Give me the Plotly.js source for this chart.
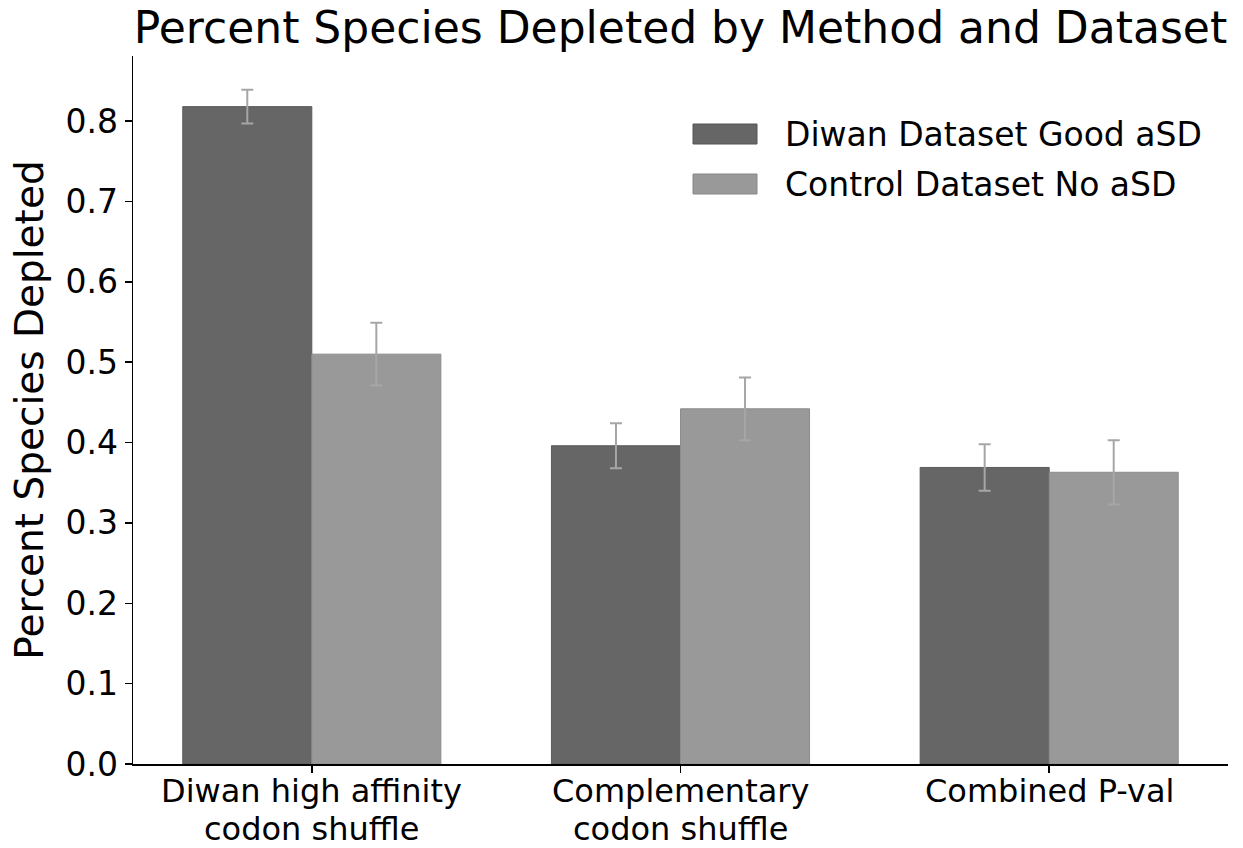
<!DOCTYPE html>
<html>
<head>
<meta charset="utf-8">
<script src="https://cdn.plot.ly/plotly-3.0.1.min.js"></script>
<style>html,body{margin:0;padding:0;background:#fff;}#chart{width:1243px;height:848px;}</style>
</head>
<body>
<div id="chart"></div>
<script>
// ---- data ----
const categories = ['Diwan high affinity<br>codon shuffle', 'Complementary<br>codon shuffle', 'Combined P-val'];
const seriesNames = ['Diwan Dataset Good aSD', 'Control Dataset No aSD'];
const diwanValues = [0.818, 0.396, 0.369];
const diwanErrors = [0.021, 0.028, 0.029];
const controlValues = [0.510, 0.442, 0.363];
const controlErrors = [0.039, 0.039, 0.040];
const yTicks = [0, 0.1, 0.2, 0.3, 0.4, 0.5, 0.6, 0.7, 0.8];

// ---- styling ----
const FONT = 'DejaVu Sans, sans-serif';
const colors = ['#666666', '#999999'];
const W = 1243, H = 848;
const M = {l: 133, r: 15, t: 56, b: 84};
const pw = W - M.l - M.r, ph = H - M.t - M.b;
const px = x => (x - M.l) / pw;
const py = y => (H - M.b - y) / ph;

const errStyle = {type: 'data', visible: true, color: '#a6a6a6', thickness: 2, width: 6};

const traces = [
  {type: 'bar', name: seriesNames[0], x: categories, y: diwanValues,
   error_y: Object.assign({array: diwanErrors}, errStyle),
   marker: {color: colors[0], line: {color: '#5a5a5a', width: 1}}, showlegend: false},
  {type: 'bar', name: seriesNames[1], x: categories, y: controlValues,
   error_y: Object.assign({array: controlErrors}, errStyle),
   marker: {color: colors[1], line: {color: '#8c8c8c', width: 1}}, showlegend: false}
];

// custom legend (wide matplotlib-style swatches)
const shapes = [], annotations = [];
const rowsY = [134, 184];
seriesNames.forEach((name, i) => {
  shapes.push({type: 'rect', xref: 'paper', yref: 'paper',
    x0: px(693), x1: px(757), y0: py(rowsY[i] + 10), y1: py(rowsY[i] - 10),
    fillcolor: colors[i], line: {color: i === 0 ? '#555' : '#888', width: 1}});
  annotations.push({xref: 'paper', yref: 'paper', x: px(783), y: py(rowsY[i]),
    xanchor: 'left', yanchor: 'middle', showarrow: false, text: name,
    font: {family: FONT, size: 33, color: '#000'}});
});

// x category labels, one annotation per line (tighter line spacing like matplotlib)
const lineCenters = [791, 829];
categories.forEach(cat => {
  cat.split('<br>').forEach((line, j) => {
    annotations.push({xref: 'x', yref: 'paper', x: cat, y: py(lineCenters[j]),
      xanchor: 'center', yanchor: 'middle', showarrow: false, text: line, borderpad: 0,
      font: {family: FONT, size: 32, color: '#000'}});
  });
});

const layout = {
  width: W, height: H,
  margin: M,
  paper_bgcolor: '#fff', plot_bgcolor: '#fff',
  barmode: 'group', bargap: 0.3, bargroupgap: 0,
  title: {text: 'Percent Species Depleted by Method and Dataset',
    font: {family: FONT, size: 44, color: '#000'},
    xref: 'paper', x: 0.5, xanchor: 'center',
    yref: 'container', y: 1 - 28 / H, yanchor: 'middle'},
  xaxis: {type: 'category', range: [-0.485, 2.485],
    showline: true, linecolor: '#000', linewidth: 1.5, mirror: false,
    ticks: 'outside', ticklen: 7, tickwidth: 1.5, tickcolor: '#000',
    showgrid: false, zeroline: false, showticklabels: false},
  yaxis: {range: [0, 0.881],
    showline: true, linecolor: '#000', linewidth: 1.5,
    ticks: 'outside', ticklen: 7, tickwidth: 1.5, tickcolor: '#000',
    tickvals: yTicks, tickformat: '.1f',
    showgrid: false, zeroline: false,
    tickfont: {family: FONT, size: 33, color: '#000'},
    title: {text: 'Percent Species Depleted', font: {family: FONT, size: 39, color: '#000'}, standoff: 10}},
  shapes: shapes,
  annotations: annotations
};

Plotly.newPlot('chart', traces, layout, {displayModeBar: false, staticPlot: true});
</script>
</body>
</html>
